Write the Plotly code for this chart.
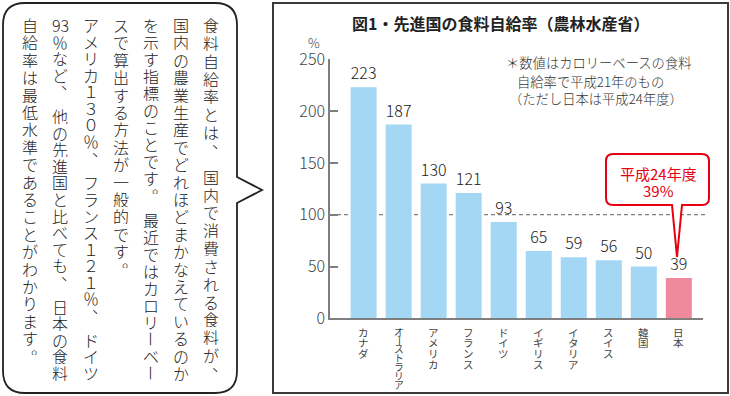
import plotly.graph_objects as go

W, H = 730, 396
FONT = "Noto Sans CJK JP"

# ---------------- data ----------------
categories = ["カナダ", "オーストラリア", "アメリカ", "フランス", "ドイツ",
              "イギリス", "イタリア", "スイス", "韓国", "日本"]
values = [223, 187, 130, 121, 93, 65, 59, 56, 50, 39]
highlight = "日本"
y_ticks = [0, 50, 100, 150, 200, 250]
reference_line = 100
title_text = "図1・先進国の食料自給率（農林水産省）"
unit_text = "%"
note_lines = ["＊数値はカロリーベースの食料", "自給率で平成21年のもの", "（ただし日本は平成24年度）"]
callout_lines = ["平成24年度", "39%"]
body_columns = [
    "食料自給率とは、　国内で消費される食料が、",
    "国内の農業生産でどれほどまかなえているのか",
    "を示す指標のことです。　最近ではカロリーベー",
    "スで算出する方法が一般的です。",
    "アメリカ１３０％、　フランス１２１％、　ドイツ",
    "93％など、　他の先進国と比べても、　日本の食料",
    "自給率は最低水準であることがわかります。",
]

# ---------------- helpers ----------------
def px(x):
    return x / W

def py(y):
    return 1 - y / H

def path(points_cmds):
    out = []
    for cmd, pts in points_cmds:
        if cmd == "Z":
            out.append("Z")
            continue
        coords = " ".join(f"{px(x):.5f},{py(y):.5f}" for x, y in pts)
        out.append(f"{cmd} {coords}")
    return " ".join(out)

def bubble_path(l, t, r, b, rad, extra_right=None, extra_bottom=None):
    cmds = [("M", [(l + rad, t)]), ("L", [(r - rad, t)]), ("Q", [(r, t), (r, t + rad)])]
    if extra_right:
        for p in extra_right:
            cmds.append(("L", [p]))
    cmds += [("L", [(r, b - rad)]), ("Q", [(r, b), (r - rad, b)])]
    if extra_bottom:
        for p in extra_bottom:
            cmds.append(("L", [p]))
    cmds += [("L", [(l + rad, b)]), ("Q", [(l, b), (l, b - rad)]),
             ("L", [(l, t + rad)]), ("Q", [(l, t), (l + rad, t)]), ("Z", [])]
    return path(cmds)

BLUE = "#a4d7f4"
PINK = "#ee8a9c"
RED = "#e60012"
GRAY = "#7f7f7f"

colors = [PINK if c == highlight else BLUE for c in categories]

fig = go.Figure()
fig.add_trace(go.Bar(
    x=categories, y=values,
    marker=dict(color=colors, line=dict(width=0)),
    text=[str(v) for v in values], textposition="outside",
    textfont=dict(family=FONT, size=16, color="#222", weight=300),
    constraintext="none", cliponaxis=False, hoverinfo="skip",
))

shapes = []
# outer frame of chart panel
shapes.append(dict(type="rect", xref="paper", yref="paper",
                   x0=px(273), x1=px(728), y0=py(393), y1=py(3),
                   line=dict(color="#3a3a3a", width=2)))
# dashed 100% line
shapes.append(dict(type="line", xref="paper", yref="y",
                   x0=px(330), x1=px(707), y0=reference_line, y1=reference_line,
                   line=dict(color=GRAY, width=1.2, dash="4px,3px"), layer="below"))
# red callout
shapes.append(dict(type="path", xref="paper", yref="paper",
                   path=bubble_path(606, 154, 709, 205, 7,
                                    extra_bottom=[(682, 205), (677, 257), (672, 205)]),
                   line=dict(color=RED, width=2), fillcolor="white", layer="below"))
# left speech bubble
shapes.append(dict(type="path", xref="paper", yref="paper",
                   path=bubble_path(3, 3, 237, 393, 22,
                                    extra_right=[(237, 177), (262, 190), (237, 203)]),
                   line=dict(color="#222", width=1.8), fillcolor="white", layer="below"))

ann = []

def add_text(x, y, text, size, color, weight=300, xanchor="center", angle=0,
             xref="paper", box_h=None):
    a = dict(x=x, y=y, xref=xref, yref="paper", text=text, showarrow=False,
             xanchor=xanchor, yanchor="middle", textangle=angle, borderpad=0,
             font=dict(family=FONT, size=size, color=color, weight=weight))
    if box_h is not None:
        a["height"] = box_h
    ann.append(a)

add_text(px(500), py(23), title_text, 16, "#222", 700)
add_text(px(314), py(42), unit_text, 13, "#444")
for (xl, yl), line in zip([(505, 63), (516, 81), (508, 98)], note_lines):
    add_text(px(xl), py(yl), line, 13.3, "#333", xanchor="left")
for yl, line in zip([173, 190], callout_lines):
    add_text(px(658), py(yl), line, 15, RED, 400)

# vertical category labels
for cat in categories:
    n = len(cat)
    step = 10.8 if n <= 4 else 8.9
    fs = 10.5 if n <= 4 else 9.8
    for i, ch in enumerate(cat):
        add_text(cat, py(332 + i * step), ch, fs, "#444", weight=400,
                 angle=90 if ch == "ー" else 0, xref="x", box_h=step)

# vertical body text (right to left)
col_x = [211, 181, 151, 121, 91, 60, 30]
Y0, Y1, STEP, BFS = 25, 373, 17.4, 16

def tokens(s):
    out, i = [], 0
    while i < len(s):
        if s[i].isascii() and s[i].isdigit():
            j = i
            while j < len(s) and s[j].isascii() and s[j].isdigit():
                j += 1
            out.append(s[i:j]); i = j
        else:
            out.append(s[i]); i += 1
    return out

for cx, col in zip(col_x, body_columns):
    toks = tokens(col)
    pos, cur = [], 0.0
    for k, t in enumerate(toks):
        adv = 0.5 if t == "　" else 1.0
        if k > 0:
            prev_adv = 0.5 if toks[k - 1] == "　" else 1.0
            cur += prev_adv / 2 + adv / 2
        pos.append(cur)
    span = pos[-1]
    step = STEP if col.endswith("。") else (Y1 - Y0) / span
    for t, p in zip(toks, pos):
        if t == "　":
            continue
        x, y = cx, Y0 + p * step
        if t in "、。":
            x += 9; y -= 9
        add_text(px(x), py(y), t, BFS, "#222", angle=90 if t == "ー" else 0,
                 box_h=16)

fig.update_layout(
    width=W, height=H, autosize=False,
    margin=dict(l=0, r=0, t=0, b=0, pad=0, autoexpand=False),
    paper_bgcolor="white", plot_bgcolor="rgba(0,0,0,0)",
    showlegend=False, bargap=0.257,
    xaxis=dict(domain=[px(330), px(703)], type="category", range=[-0.96, 9.69],
               showline=True, linecolor=GRAY, linewidth=1.5, showticklabels=False,
               ticks="", showgrid=False, zeroline=False, fixedrange=True),
    yaxis=dict(domain=[py(318.3), py(59.3)], range=[0, 250], tickvals=y_ticks,
               ticks="inside", ticklen=8, tickwidth=1.5, tickcolor=GRAY,
               showline=True, linecolor=GRAY, linewidth=1.5, showgrid=False,
               zeroline=False, fixedrange=True,
               tickfont=dict(family=FONT, size=16, color="#444", weight=300)),
    shapes=shapes, annotations=ann,
)

fig.write_html("out.html", config={"displayModeBar": False},
               post_script="document.body.style.margin='0';document.body.style.overflow='hidden';")
